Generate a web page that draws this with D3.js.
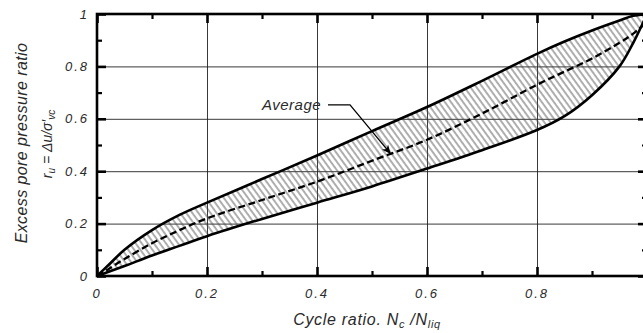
<!DOCTYPE html>
<html>
<head>
<meta charset="utf-8">
<script src="https://cdn.jsdelivr.net/npm/d3@7"></script>
<style>
  body { margin: 0; background: #fff; }
  svg { display: block; }
  text { font-family: "Liberation Sans", Arial, sans-serif; font-style: italic; fill: #2a2a2a; }
</style>
</head>
<body>
<svg id="chart" width="643" height="333"></svg>
<script>
// cycle ratio samples shared by the three curves
const cycleRatio = [0, 0.02, 0.05, 0.1, 0.15, 0.2, 0.3, 0.4, 0.5, 0.6, 0.7, 0.8, 0.85, 0.9, 0.95, 0.975, 1];
// upper bound of the band
const upperBound = [0, 0.04, 0.1, 0.175, 0.233, 0.28, 0.37, 0.46, 0.553, 0.645, 0.745, 0.848, 0.895, 0.937, 0.975, 0.993, 1];
// lower bound of the band
const lowerBound = [0, 0.015, 0.038, 0.078, 0.115, 0.152, 0.218, 0.28, 0.342, 0.41, 0.48, 0.557, 0.61, 0.69, 0.8, 0.89, 1];
// average curve (dashed)
const averageCurve = [0, 0.025, 0.065, 0.125, 0.175, 0.22, 0.29, 0.36, 0.44, 0.52, 0.62, 0.73, 0.78, 0.83, 0.89, 0.925, 0.97];

const majorTicks = [0, 0.2, 0.4, 0.6, 0.8, 1];
const minorTicks = [0.1, 0.3, 0.5, 0.7, 0.9];
const gridValues = [0.2, 0.4, 0.6, 0.8];
const xTickLabels = ['0', '0.2', '0.4', '0.6', '0.8'];
const yTickLabels = ['0', '0.2', '0.4', '0.6', '0.8', '1'];

// annotation anchor points in data units: text, leader elbow, arrow tip
const annotText = { x: 0.3, y: 0.634, label: 'Average' };
const annotLeader = [[0.42, 0.653], [0.46, 0.653], [0.534, 0.466]];

const plotLeft = 97, plotRight = 647, plotTop = 14, plotBottom = 276;

const svg = d3.select('#chart');

const x = d3.scaleLinear().domain([0, 1]).range([plotLeft, plotRight]);
const y = d3.scaleLinear().domain([0, 1]).range([plotBottom, plotTop]);

// hatch pattern for the band
const defs = svg.append('defs');
defs.append('pattern')
    .attr('id', 'hatch')
    .attr('patternUnits', 'userSpaceOnUse')
    .attr('width', 4.9)
    .attr('height', 10)
    .attr('patternTransform', 'rotate(-36)')
  .append('line')
    .attr('x1', 1).attr('y1', 0)
    .attr('x2', 1).attr('y2', 10)
    .attr('stroke', '#4a4a4a')
    .attr('stroke-width', 0.9);

defs.append('marker')
    .attr('id', 'arrow')
    .attr('viewBox', '0 0 10 10')
    .attr('refX', 10).attr('refY', 5)
    .attr('markerWidth', 10).attr('markerHeight', 9)
    .attr('markerUnits', 'userSpaceOnUse')
    .attr('orient', 'auto')
  .append('path')
    .attr('d', 'M0,0.5 L10,5 L0,9.5 L3,5 Z')
    .attr('fill', '#000');

// grid lines
svg.append('g')
    .attr('transform', `translate(0,${plotBottom})`)
    .call(d3.axisBottom(x).tickValues(gridValues).tickSize(-(plotBottom - plotTop)).tickFormat(''))
    .call(g => g.select('.domain').remove())
    .call(g => g.selectAll('line').attr('stroke', '#222').attr('stroke-width', 0.9));

svg.append('g')
    .attr('transform', `translate(${plotLeft},0)`)
    .call(d3.axisLeft(y).tickValues(gridValues).tickSize(-(plotRight - plotLeft)).tickFormat(''))
    .call(g => g.select('.domain').remove())
    .call(g => g.selectAll('line').attr('stroke', '#222').attr('stroke-width', 0.9));

// hatched band
const rows = cycleRatio.map((c, i) => ({ c, lo: lowerBound[i], hi: upperBound[i], avg: averageCurve[i] }));
const smooth = d3.curveCatmullRom.alpha(0.5);

svg.append('path')
    .datum(rows)
    .attr('fill', 'url(#hatch)')
    .attr('d', d3.area()
        .x(d => x(d.c))
        .y0(d => y(d.lo))
        .y1(d => y(d.hi))
        .curve(smooth));

const boundLine = key => d3.line()
    .x(d => x(d.c))
    .y(d => y(d[key]))
    .curve(smooth);

svg.append('path').datum(rows)
    .attr('fill', 'none').attr('stroke', '#000').attr('stroke-width', 2.6)
    .attr('d', boundLine('hi'));

svg.append('path').datum(rows)
    .attr('fill', 'none').attr('stroke', '#000').attr('stroke-width', 2.6)
    .attr('d', boundLine('lo'));

svg.append('path').datum(rows)
    .attr('fill', 'none').attr('stroke', '#000').attr('stroke-width', 2.3)
    .attr('stroke-dasharray', '7,3.5')
    .attr('d', boundLine('avg'));

// frame
svg.append('rect')
    .attr('x', plotLeft).attr('y', plotTop)
    .attr('width', plotRight - plotLeft).attr('height', plotBottom - plotTop)
    .attr('fill', 'none').attr('stroke', '#000').attr('stroke-width', 2.6);

// inward ticks on all four sides
function styleTicks(g, w) {
    g.select('.domain').remove();
    g.selectAll('line').attr('stroke', '#000').attr('stroke-width', w);
}
const sides = [
    { axis: d3.axisBottom(x), t: `translate(0,${plotBottom})` },
    { axis: d3.axisTop(x), t: `translate(0,${plotTop})` },
    { axis: d3.axisLeft(y), t: `translate(${plotLeft},0)` },
    { axis: d3.axisRight(y), t: `translate(${plotRight},0)` }
];
sides.forEach(s => {
    svg.append('g').attr('transform', s.t)
        .call(s.axis.tickValues(majorTicks).tickSize(-9).tickFormat(''))
        .call(g => styleTicks(g, 2.6));
    svg.append('g').attr('transform', s.t)
        .call(s.axis.tickValues(minorTicks).tickSize(-5).tickFormat(''))
        .call(g => styleTicks(g, 2.2));
});

// tick labels
svg.append('g')
    .selectAll('text')
    .data(xTickLabels)
    .join('text')
    .attr('x', d => x(+d))
    .attr('y', plotBottom + 22)
    .attr('text-anchor', 'middle')
    .style('font-size', '13px')
    .style('letter-spacing', '2px')
    .text(d => d);

svg.append('g')
    .selectAll('text')
    .data(yTickLabels)
    .join('text')
    .attr('x', plotLeft - 8)
    .attr('y', d => y(+d) + 4.5)
    .attr('text-anchor', 'end')
    .style('font-size', '13px')
    .style('letter-spacing', '2px')
    .text(d => d);

// x axis title
const xTitle = svg.append('text')
    .attr('x', 367)
    .attr('y', 325)
    .attr('text-anchor', 'middle')
    .style('font-size', '16px')
    .style('letter-spacing', '0.7px');
xTitle.append('tspan').text('Cycle ratio. N');
xTitle.append('tspan').attr('dy', 3).style('font-size', '11px').text('c');
xTitle.append('tspan').attr('dy', -3).text(' /N');
xTitle.append('tspan').attr('dy', 3).style('font-size', '11px').text('liq');

// y axis title, two lines
svg.append('text')
    .attr('transform', 'translate(27,143) rotate(-90)')
    .attr('text-anchor', 'middle')
    .style('font-size', '16px')
    .style('letter-spacing', '0.4px')
    .text('Excess pore pressure ratio');

const yTitle2 = svg.append('text')
    .attr('transform', 'translate(52,144) rotate(-90)')
    .attr('text-anchor', 'middle')
    .style('font-size', '14px');
yTitle2.append('tspan').text('r');
yTitle2.append('tspan').attr('dy', 3).style('font-size', '10px').text('u');
yTitle2.append('tspan').attr('dy', -3).text(' = Δu/σ\u2032');
yTitle2.append('tspan').attr('dy', 3).style('font-size', '10px').text('vc');

// "Average" annotation
svg.append('text')
    .attr('x', x(annotText.x))
    .attr('y', y(annotText.y))
    .style('font-size', '15px')
    .style('letter-spacing', '0.5px')
    .text(annotText.label);

svg.append('path')
    .datum(annotLeader)
    .attr('fill', 'none')
    .attr('stroke', '#000')
    .attr('stroke-width', 1.3)
    .attr('marker-end', 'url(#arrow)')
    .attr('d', d3.line().x(d => x(d[0])).y(d => y(d[1])));
</script>
</body>
</html>
